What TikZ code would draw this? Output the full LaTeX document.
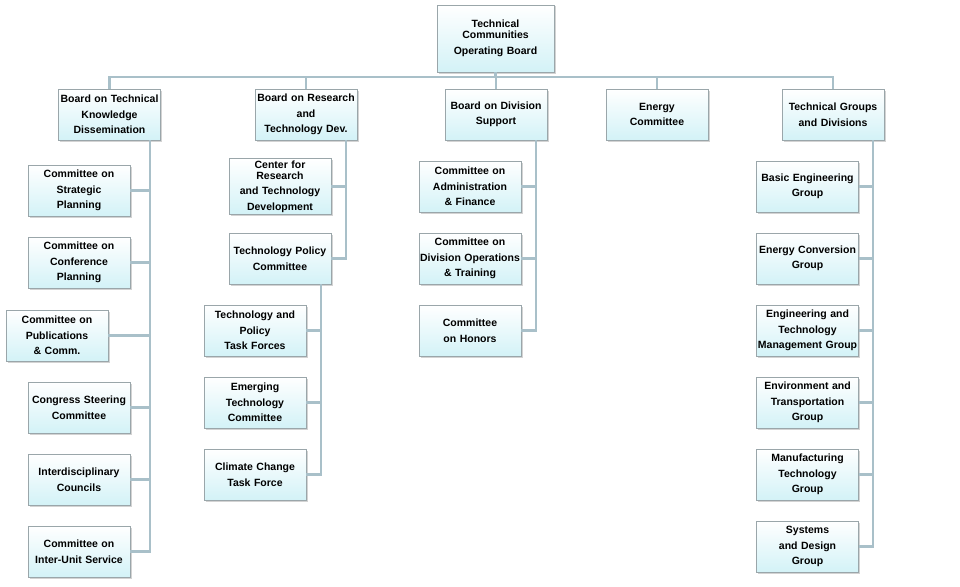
\documentclass[tikz,border=0pt]{standalone}
\usepackage{fontspec}
\setmainfont{Liberation Sans}
\usetikzlibrary{shadows}
\definecolor{linkgray}{HTML}{A9C0C9}
\definecolor{boxedge}{HTML}{9AA6AA}
\definecolor{boxfill}{HTML}{D3F2F7}
\tikzset{
  unit/.style={draw=boxedge, line width=0.6pt, top color=white, bottom color=boxfill,
    text width=100pt, inner xsep=1pt, inner ysep=2pt, minimum height=51pt, align=center,
    font=\bfseries\fontsize{10.5}{15.5}\selectfont,
    drop shadow={shadow xshift=1.5pt, shadow yshift=-1.5pt, opacity=0.35}},
  link/.style={draw=linkgray, line width=2.6pt}
}
\begin{document}
\begin{tikzpicture}[x=1pt,y=-1pt]
  \useasboundingbox (0,0) rectangle (960,586);
  \node[unit, text width=115pt, minimum height=67pt] (tcob) at (495.5,38.5) {Technical\\[-4.5pt]Communities\\Operating Board};
  % boards
  \node[unit] (bk)  at (109.5,114.5) {Board on Technical\\Knowledge\\Dissemination};
  \node[unit] (brt) at (306,114.5) {Board on Research\\and\\Technology Dev.};
  \node[unit] (bds) at (496,114.5) {Board on Division\\Support};
  \node[unit] (ec)  at (657,114.5) {Energy\\Committee};
  \node[unit] (tgd) at (833,114.5) {Technical Groups\\and Divisions};
  % left column
  \node[unit] (sp) at (79,190.5) {Committee on\\Strategic\\Planning};
  \node[unit] (cp) at (79,262.5) {Committee on\\Conference\\Planning};
  \node[unit] (pc) at (57,335.5) {Committee on\\Publications\\\& Comm.};
  \node[unit] (cs) at (79,407.5) {Congress Steering\\Committee};
  \node[unit] (ic) at (79,479.5) {Interdisciplinary\\Councils};
  \node[unit] (iu) at (79,551.5) {Committee on\\Inter-Unit Service};
  % research column
  \node[unit] (crt) at (280,186.5) {Center for\\[-4.5pt]Research\\and Technology\\Development};
  \node[unit] (tpc) at (280,258.5) {Technology Policy\\Committee};
  \node[unit] (tpt) at (255,330.5) {Technology and\\Policy\\Task Forces};
  \node[unit] (etc) at (255,402.5) {Emerging\\Technology\\Committee};
  \node[unit] (cct) at (255,474.5) {Climate Change\\Task Force};
  % division support column
  \node[unit] (caf) at (470,186.5) {Committee on\\Administration\\\& Finance};
  \node[unit] (cdo) at (470,258.5) {Committee on\\Division Operations\\\& Training};
  \node[unit] (coh) at (470,330.5) {Committee\\on Honors};
  % technical groups column
  \node[unit] (beg) at (807.5,186.5) {Basic Engineering\\Group};
  \node[unit] (ecg) at (807.5,258.5) {Energy Conversion\\Group};
  \node[unit] (etm) at (807.5,330.5) {Engineering and\\Technology\\Management Group};
  \node[unit] (etg) at (807.5,402.5) {Environment and\\Transportation\\Group};
  \node[unit] (mtg) at (807.5,474.5) {Manufacturing\\Technology\\Group};
  \node[unit] (sdg) at (807.5,546.5) {Systems\\and Design\\Group};
  % connectors
  \coordinate (bus) at (0,77);
  \foreach \b in {bk,brt,bds,ec,tgd}
    \draw[link] (tcob.south) -- (tcob.south |- bus) -| (\b.north);
  \coordinate (bkspine) at (150,0);
  \foreach \c in {sp,cp,pc,cs,ic,iu}
    \draw[link] (bk.south -| bkspine) |- (\c.east);
  \coordinate (brtspine) at (346,0);
  \foreach \c in {crt,tpc}
    \draw[link] (brt.south -| brtspine) |- (\c.east);
  \coordinate (tpcspine) at (321,0);
  \foreach \c in {tpt,etc,cct}
    \draw[link] (tpc.south -| tpcspine) |- (\c.east);
  \coordinate (bdsspine) at (536,0);
  \foreach \c in {caf,cdo,coh}
    \draw[link] (bds.south -| bdsspine) |- (\c.east);
  \coordinate (tgdspine) at (873,0);
  \foreach \c in {beg,ecg,etm,etg,mtg,sdg}
    \draw[link] (tgd.south -| tgdspine) |- (\c.east);
\end{tikzpicture}
\end{document}
